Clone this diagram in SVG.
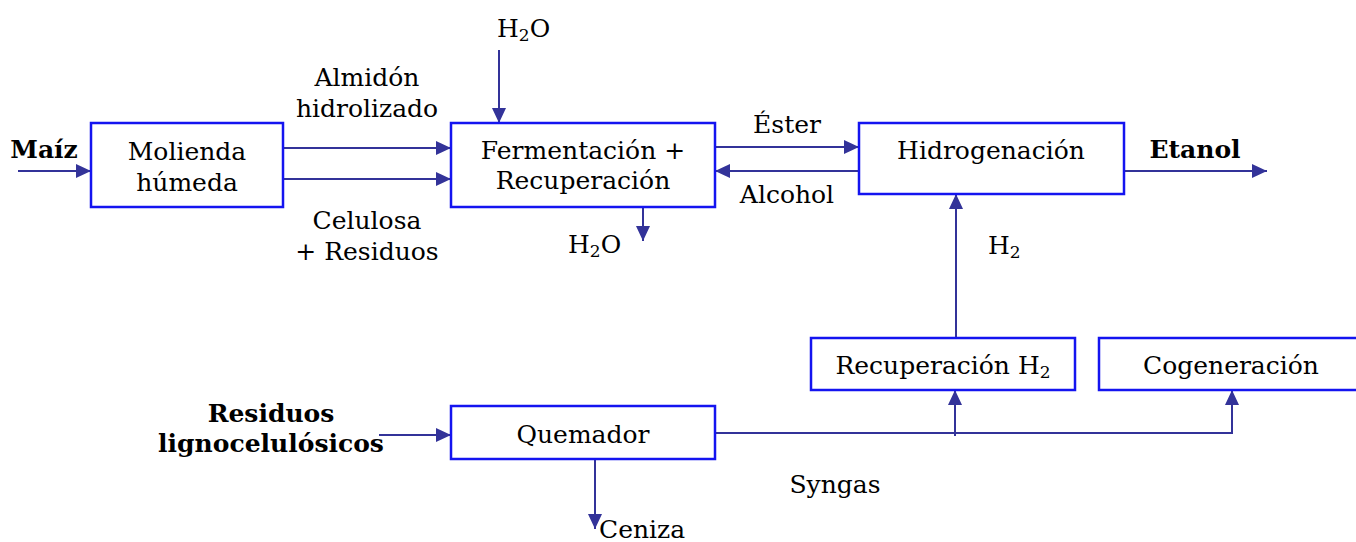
<svg xmlns="http://www.w3.org/2000/svg" width="1356" height="542" viewBox="0 0 1356 542">
  <style>
    .box { fill: #ffffff; stroke: #1414f0; stroke-width: 2.5; }
    .flow { fill: none; stroke: #333399; stroke-width: 2; }
    text { font-family: "DejaVu Serif", "Liberation Serif", serif; font-size: 25px; fill: #000000; }
    .c { text-anchor: middle; }
    .b { font-weight: bold; }
    .sub { font-size: 17px; }
  </style>
  <defs>
    <marker id="arrow" markerUnits="userSpaceOnUse" markerWidth="16" markerHeight="14" refX="15" refY="7" orient="auto">
      <path d="M0,0 L15,7 L0,14 Z" fill="#333399"/>
    </marker>
    <clipPath id="syngasClip">
      <rect x="760" y="460" width="160" height="38"/>
    </clipPath>
  </defs>

  <!-- process connectors -->
  <g id="connectors">
    <path class="flow" d="M18,171 H91" marker-end="url(#arrow)"/>
    <path class="flow" d="M283,148 H451" marker-end="url(#arrow)"/>
    <path class="flow" d="M283,179 H451" marker-end="url(#arrow)"/>
    <path class="flow" d="M499,50 V123" marker-end="url(#arrow)"/>
    <path class="flow" d="M643,207 V241" marker-end="url(#arrow)"/>
    <path class="flow" d="M715,147 H859" marker-end="url(#arrow)"/>
    <path class="flow" d="M859,171 H715" marker-end="url(#arrow)"/>
    <path class="flow" d="M1124,171 H1267" marker-end="url(#arrow)"/>
    <path class="flow" d="M956,338 V194" marker-end="url(#arrow)"/>
    <path class="flow" d="M379,435 H451" marker-end="url(#arrow)"/>
    <path class="flow" d="M595,459 V529" marker-end="url(#arrow)"/>
    <path class="flow" d="M715,433 H1232 V390" marker-end="url(#arrow)"/>
    <path class="flow" d="M955,436 V390" marker-end="url(#arrow)"/>
  </g>

  <!-- stream labels -->
  <g id="labels">
    <text class="b c" x="44" y="158">Maíz</text>
    <text class="c" x="367" y="86">Almidón</text>
    <text class="c" x="367" y="117">hidrolizado</text>
    <text class="c" x="367" y="229">Celulosa</text>
    <text class="c" x="367" y="260">+ Residuos</text>
    <text x="497" y="37">H<tspan class="sub" dy="4">2</tspan><tspan dy="-4">O</tspan></text>
    <text x="568" y="253">H<tspan class="sub" dy="4">2</tspan><tspan dy="-4">O</tspan></text>
    <text class="c" x="787" y="133">Éster</text>
    <text class="c" x="787" y="203">Alcohol</text>
    <text class="b c" x="1195" y="158">Etanol</text>
    <text x="988" y="254">H<tspan class="sub" dy="4">2</tspan></text>
    <text class="b c" x="271" y="422">Residuos</text>
    <text class="b c" x="271" y="452">lignocelulósicos</text>
    <text class="c" x="835" y="493" clip-path="url(#syngasClip)">Syngas</text>
    <text x="599" y="538">Ceniza</text>
  </g>

  <g id="molienda">
    <rect class="box" x="91" y="123" width="192" height="84"/>
    <text class="c" x="187" y="160">Molienda</text>
    <text class="c" x="187" y="191">húmeda</text>
  </g>

  <g id="fermentacion">
    <rect class="box" x="451" y="123" width="264" height="84"/>
    <text class="c" x="583" y="159">Fermentación +</text>
    <text class="c" x="583" y="189">Recuperación</text>
  </g>

  <g id="hidrogenacion">
    <rect class="box" x="859" y="123" width="265" height="71"/>
    <text class="c" x="991" y="159">Hidrogenación</text>
  </g>

  <g id="recuperacion-h2">
    <rect class="box" x="811" y="338" width="264" height="52"/>
    <text class="c" x="943" y="374">Recuperación H<tspan class="sub" dy="4">2</tspan></text>
  </g>

  <g id="cogeneracion">
    <rect class="box" x="1099" y="338" width="262" height="52"/>
    <text class="c" x="1231" y="374">Cogeneración</text>
  </g>

  <g id="quemador">
    <rect class="box" x="451" y="406" width="264" height="53"/>
    <text class="c" x="583" y="443">Quemador</text>
  </g>
</svg>
